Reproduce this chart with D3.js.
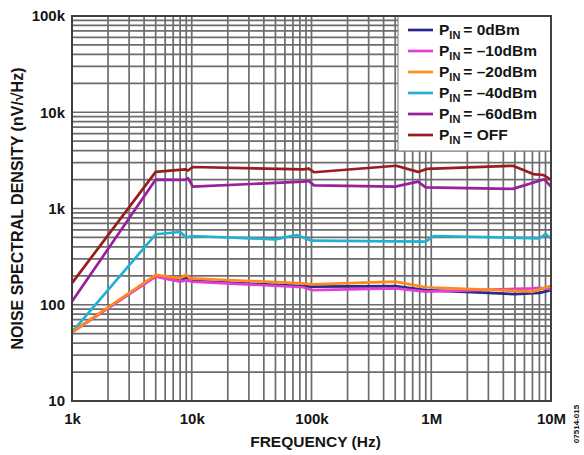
<!DOCTYPE html>
<html>
<head>
<meta charset="utf-8">
<script src="https://cdn.jsdelivr.net/npm/d3@7"></script>
<style>
  html, body { margin: 0; padding: 0; background: #fff; }
  svg { display: block; font-family: "Liberation Sans", Arial, Helvetica, sans-serif; font-weight: bold; }
</style>
</head>
<body>
<svg id="chart" width="584" height="455"></svg>
<script>
// Noise spectral density vs frequency, one trace per input power level.
// Each point is [frequency (Hz), density (nV/√Hz)].
const pin0dBm = [[1e3,52],[5e3,200],[8e3,181],[9e3,188],[1e4,177],[1e5,154],[5e5,156],[9e5,142],[5e6,129],[8e6,133],[1e7,142]];
const pinM10dBm = [[1e3,52],[5e3,196],[8e3,174],[9e3,180],[1e4,174],[8.5e4,152],[1e5,142],[5e5,148],[9e5,137],[7e6,148],[8e6,150],[1e7,145]];
const pinM20dBm = [[1e3,52],[5e3,204],[8e3,188],[9e3,207],[9.6e3,188],[8.5e4,167],[1e5,163],[5e5,174],[9e5,152],[7e6,137],[1e7,157]];
const pinM40dBm = [[1e3,52],[5e3,540],[8e3,570],[9e3,500],[1e4,518],[5e4,478],[7.5e4,530],[1e5,463],[9e5,452],[1.05e6,518],[8e6,490],[9e6,543],[1e7,490]];
const pinM60dBm = [[1e3,108],[5e3,2000],[8.8e3,1980],[9.3e3,2070],[1.02e4,1690],[8.5e4,1900],[9.5e4,1930],[1.05e5,1740],[5e5,1690],[7.75e5,1900],[9e5,1660],[4.8e6,1600],[8.8e6,2010],[1e7,1690]];
const pinOff = [[1e3,168],[5e3,2400],[8.8e3,2550],[9.3e3,2480],[1.02e4,2700],[8.5e4,2550],[9.5e4,2600],[1.05e5,2380],[5.1e5,2780],[7.75e5,2400],[9.2e5,2580],[4.8e6,2780],[7.1e6,2280],[8.6e6,2230],[1e7,1980]];

const seriesLabels = ["= 0dBm", "= \u201310dBm", "= \u201320dBm", "= \u201340dBm", "= \u201360dBm", "= OFF"];
const seriesData = [pin0dBm, pinM10dBm, pinM20dBm, pinM40dBm, pinM60dBm, pinOff];
const seriesColors = ["#2a2a8c", "#e33fd6", "#ff8a1c", "#22b1d2", "#9a1f9e", "#981c20"];
const drawOrder = [5, 4, 3, 0, 1, 2];

const xTickValues = [1e3, 1e4, 1e5, 1e6, 1e7];
const xTickLabels = ["1k", "10k", "100k", "1M", "10M"];
const yTickValues = [10, 100, 1e3, 1e4, 1e5];
const yTickLabels = ["10", "100", "1k", "10k", "100k"];

const svg = d3.select("#chart");
const m = { left: 72, right: 551, top: 16, bottom: 401 };

const x = d3.scaleLog().domain([1e3, 1e7]).range([m.left, m.right]);
const y = d3.scaleLog().domain([10, 1e5]).range([m.bottom, m.top]);

// Log grid: every 1..9 multiple within each decade
const gridX = [], gridY = [];
for (let d = 1e3; d < 1e7; d *= 10) for (let k = 2; k <= 9; k++) gridX.push(d * k);
for (let d = 10; d < 1e5; d *= 10) for (let k = 2; k <= 9; k++) gridY.push(d * k);
xTickValues.forEach(v => gridX.push(v));
yTickValues.forEach(v => gridY.push(v));

const grid = svg.append("g").attr("stroke", "#6c6c6c").attr("stroke-width", 1.7);
grid.selectAll("line.gx").data(gridX).join("line").attr("class", "gx")
  .attr("x1", d => x(d)).attr("x2", d => x(d)).attr("y1", m.top).attr("y2", m.bottom);
grid.selectAll("line.gy").data(gridY).join("line").attr("class", "gy")
  .attr("y1", d => y(d)).attr("y2", d => y(d)).attr("x1", m.left).attr("x2", m.right);

// Traces
const line = d3.line().x(d => x(d[0])).y(d => y(d[1]));
svg.append("g").selectAll("path").data(drawOrder).join("path")
  .attr("d", i => line(seriesData[i]))
  .attr("fill", "none")
  .attr("stroke", i => seriesColors[i])
  .attr("stroke-width", 2.7)
  .attr("stroke-linejoin", "round");

// Legend box
const lg = svg.append("g");
lg.append("rect").attr("x", 398).attr("y", m.top).attr("width", m.right - 398).attr("height", 135)
  .attr("fill", "#fff").attr("stroke", "#8a8a8a").attr("stroke-width", 1.2);
seriesLabels.forEach((lab, i) => {
  const cy = 30 + i * 21;
  lg.append("line").attr("x1", 408).attr("x2", 433).attr("y1", cy).attr("y2", cy)
    .attr("stroke", seriesColors[i]).attr("stroke-width", 2.7);
  const t = lg.append("text").attr("x", 439).attr("y", cy + 5).attr("font-size", 15.5).attr("fill", "#151515");
  t.append("tspan").text("P");
  t.append("tspan").attr("font-size", 11).attr("dy", 4).text("IN");
  t.append("tspan").attr("dy", -4).attr("dx", 3).text(lab);
});

// Plot frame
svg.append("rect").attr("x", m.left).attr("y", m.top).attr("width", m.right - m.left).attr("height", m.bottom - m.top)
  .attr("fill", "none").attr("stroke", "#404040").attr("stroke-width", 2);

// Axis tick labels
const xAxis = d3.axisBottom(x).tickValues(xTickValues).tickSize(0).tickPadding(0)
  .tickFormat((d, i) => xTickLabels[i]);
const gx = svg.append("g").attr("transform", `translate(0,${m.bottom + 12})`).call(xAxis);
gx.select(".domain").remove();
gx.selectAll("text").attr("font-size", 15).attr("font-weight", "bold").attr("fill", "#151515")
  .attr("font-family", "Liberation Sans, Arial, sans-serif");

const yAxis = d3.axisLeft(y).tickValues(yTickValues).tickSize(0).tickPadding(0)
  .tickFormat((d, i) => yTickLabels[yTickValues.indexOf(d)]);
const gy = svg.append("g").attr("transform", `translate(${m.left - 7},0)`).call(yAxis);
gy.select(".domain").remove();
gy.selectAll("text").attr("font-size", 15).attr("font-weight", "bold").attr("fill", "#151515")
  .attr("font-family", "Liberation Sans, Arial, sans-serif");

// Axis titles
svg.append("text").attr("x", (m.left + m.right) / 2 + 4).attr("y", 447).attr("text-anchor", "middle")
  .attr("font-size", 15.5).attr("fill", "#151515").text("FREQUENCY (Hz)");
svg.append("text").attr("transform", `translate(23,${(m.top + m.bottom) / 2}) rotate(-90)`)
  .attr("text-anchor", "middle").attr("font-size", 16).attr("fill", "#151515")
  .text("NOISE SPECTRAL DENSITY (nV/\u221AHz)");

// Figure code
svg.append("text").attr("transform", "translate(579,424) rotate(-90)").attr("text-anchor", "middle")
  .attr("font-size", 8).attr("fill", "#151515").text("07514-015");
</script>
</body>
</html>
